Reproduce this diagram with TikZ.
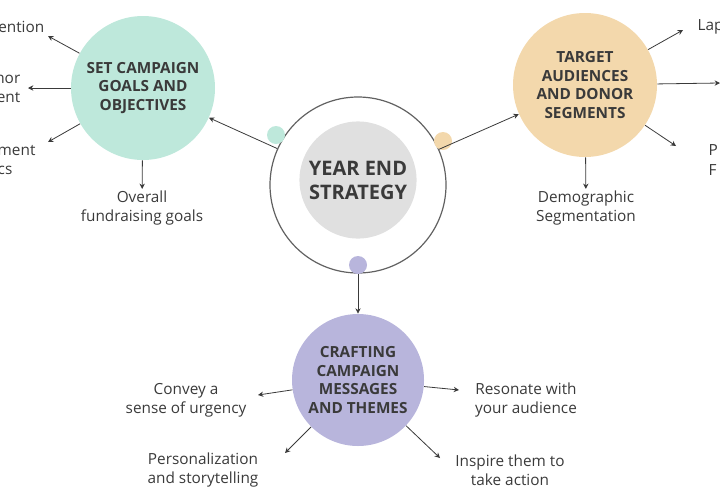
\documentclass[tikz,border=0pt]{standalone}
\usepackage{fontspec}
\setmainfont{Open Sans}
\usetikzlibrary{positioning}
\usetikzlibrary{arrows.meta}
\definecolor{teal1}{HTML}{BEE8DB}
\definecolor{tan1}{HTML}{F3D8AC}
\definecolor{lilac}{HTML}{B8B5DC}
\definecolor{core}{HTML}{E0E0E0}
\definecolor{ink}{HTML}{3A3A3A}
\begin{document}
\begin{tikzpicture}[
            x = 0.75pt, y = -0.75pt, % pixel grid
            >={Stealth[length=4pt,width=4pt]}, % arrow head style
            semithick,
            font=\fontsize{11.5}{14.5}\selectfont
        ]

        \tikzstyle{topic}=[circle, draw=none, text=ink, align=center,
            font=\fontsize{11.5}{14}\selectfont\bfseries, inner sep=0pt]
        \tikzstyle{dot}=[circle, draw=none, minimum size=13.5pt, inner sep=0pt]
        \tikzstyle{leaf}=[text=ink, align=center, inner sep=1pt]
        \tikzstyle{link}=[->, draw=ink]

        \useasboundingbox (0,0) rectangle (720,500);

	% centre
        \node[circle, draw=ink!80, line width=0.9pt, minimum size=132pt] (ring) at (358,185) {};
        \node[circle, fill=core, minimum size=80pt, font=\fontsize{15}{18}\selectfont\bfseries, text=ink, align=center] (core) at (358,180) {YEAR END\\STRATEGY};
        \node[dot, fill=teal1] (dT) at (276,135) {};
        \node[dot, fill=tan1] (dA) at (443,141) {};
        \node[dot, fill=lilac] (dC) at (358,265) {};

         % topics
         \node[topic, fill=teal1, minimum size=108pt] (goals) at (143,88) {SET CAMPAIGN\\GOALS AND\\OBJECTIVES};
         \node[topic, fill=tan1, minimum size=108pt] (aud) at (585,85) {TARGET\\AUDIENCES\\AND DONOR\\SEGMENTS};
         \node[topic, fill=lilac, minimum size=99pt] (msg) at (358,380) {CRAFTING\\CAMPAIGN\\MESSAGES\\AND THEMES};

         \draw[link] (ring) -- (goals);
         \draw[link] (ring) -- (aud);
         \draw[link] (dC) -- (msg);

         % goals leaves
         \node[leaf, anchor=east] (g1) at (46,27) {ention};
         \node[leaf, anchor=east, align=right] (g2) at (22,89) {nor\\ent};
         \node[leaf, anchor=west, align=left] (g3) at (-4,160) {ment\\cs};
         \node[leaf] (g4) at (142,208) {Overall\\fundraising goals};
         \coordinate (e1) at (48,36);
         \coordinate (e2) at (28,88);
         \coordinate (e3) at (48,142);
         \draw[link] (goals) -- (e1);
         \draw[link] (goals) -- (e2);
         \draw[link] (goals) -- (e3);
         \draw[link] (goals) -- (g4);

         % audience leaves
         \node[leaf, anchor=west] (a1) at (696,27) {Lap};
         \node[leaf, anchor=west, align=left] (a3) at (707,160) {P\\F};
         \node[leaf] (a4) at (586,208) {Demographic\\Segmentation};
         \coordinate (f1) at (683,30);
         \coordinate (f2) at (720,83);
         \coordinate (f3) at (676,146);
         \draw[link] (aud) -- (f1);
         \draw[link] (aud) -- (f2);
         \draw[link] (aud) -- (f3);
         \draw[link] (aud) -- (a4);

         % message leaves
         \node[leaf] (m1) at (186,400) {Convey a\\sense of urgency};
         \node[leaf] (m2) at (526,400) {Resonate with\\your audience};
         \node[leaf] (m3) at (203,470) {Personalization\\and storytelling};
         \node[leaf] (m4) at (510,470) {Inspire them to\\take action};
         \coordinate (h1) at (258,395);
         \coordinate (h2) at (459,390);
         \coordinate (h3) at (285,453);
         \coordinate (h4) at (440,458);
         \draw[link] (msg) -- (h1);
         \draw[link] (msg) -- (h2);
         \draw[link] (msg) -- (h3);
         \draw[link] (msg) -- (h4);

  \end{tikzpicture}
\end{document}
